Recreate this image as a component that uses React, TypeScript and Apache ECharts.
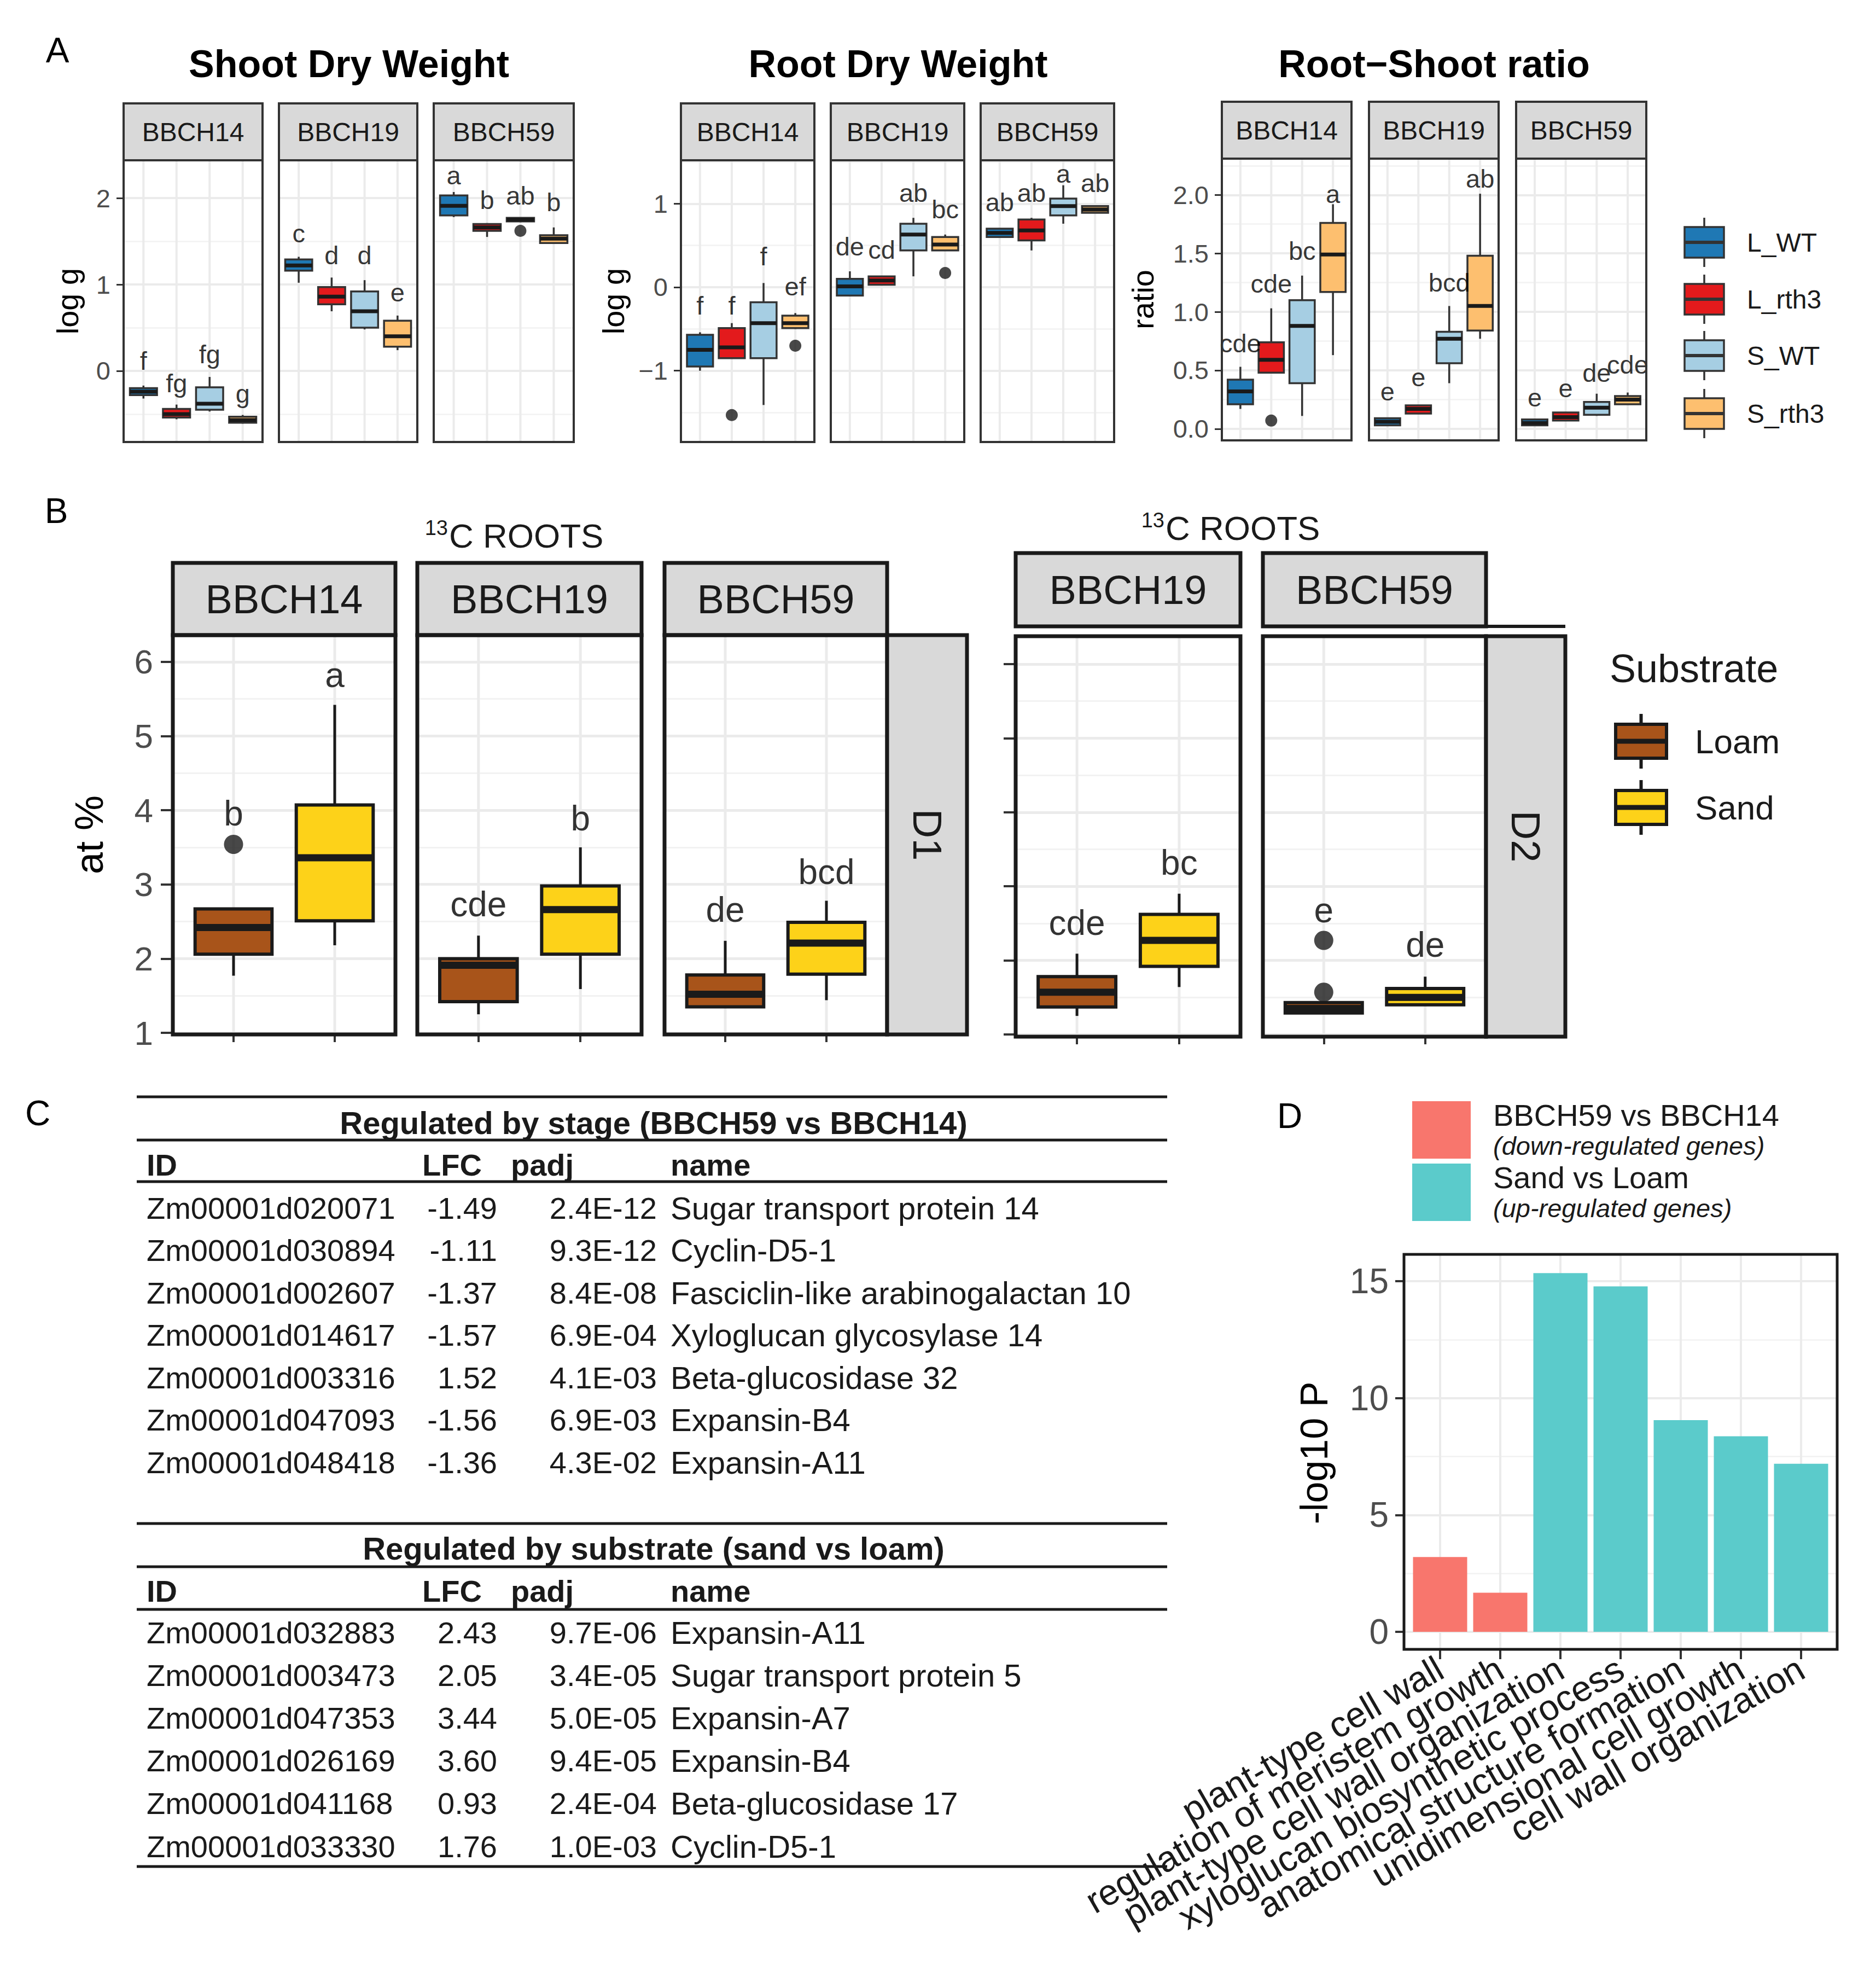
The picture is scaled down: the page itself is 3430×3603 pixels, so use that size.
import React, { useEffect, useRef } from "react";
import * as echarts from "echarts";

const W = 3430;
const H = 3603;
const FONT = '"Liberation Sans", Arial, Helvetica, sans-serif';

// ================= DATA =================
// ---- Panel A ----
const genotypes = ["L_WT", "L_rth3", "S_WT", "S_rth3"];
const stagesA = ["BBCH14", "BBCH19", "BBCH59"];
const panelATitles = ["Shoot Dry Weight", "Root Dry Weight", "Root\u2212Shoot ratio"];
const panelAYTitles = ["log g", "log g", "ratio"];

// [min, q1, median, q3, max] for L_WT, L_rth3, S_WT, S_rth3
const shoot14 = [[-0.32, -0.28, -0.24, -0.2, -0.17], [-0.56, -0.54, -0.5, -0.44, -0.39], [-0.47, -0.45, -0.38, -0.19, -0.07], [-0.61, -0.6, -0.57, -0.53, -0.51]];
const shoot19 = [[1.02, 1.16, 1.22, 1.29, 1.32], [0.69, 0.77, 0.86, 0.97, 1.08], [0.48, 0.5, 0.69, 0.92, 1.05], [0.24, 0.28, 0.4, 0.58, 0.64]];
const shoot59 = [[1.78, 1.8, 1.91, 2.03, 2.07], [1.55, 1.62, 1.66, 1.7, 1.71], [1.72, 1.73, 1.75, 1.77, 1.77], [1.47, 1.48, 1.53, 1.57, 1.66]];
const shootOutliers = [[2, 2, 1.62]]; // [stage, genotype, value]
const shootLetters = [["f", "fg", "fg", "g"], ["c", "d", "d", "e"], ["a", "b", "ab", "b"]];
const shootLetterY = [[0.12, -0.14, 0.19, -0.26], [1.59, 1.34, 1.34, 0.91], [2.26, 1.98, 2.03, 1.95]];

const root14 = [[-1.0, -0.95, -0.75, -0.57, -0.54], [-0.85, -0.85, -0.72, -0.49, -0.43], [-1.41, -0.85, -0.43, -0.18, 0.05], [-0.5, -0.49, -0.43, -0.34, -0.31]];
const root19 = [[-0.1, -0.1, 0.01, 0.1, 0.19], [0.03, 0.03, 0.08, 0.13, 0.13], [0.13, 0.44, 0.63, 0.76, 0.83], [0.44, 0.44, 0.51, 0.6, 0.63]];
const root59 = [[0.6, 0.6, 0.65, 0.7, 0.7], [0.44, 0.56, 0.68, 0.81, 0.83], [0.76, 0.86, 0.97, 1.06, 1.22], [0.89, 0.89, 0.93, 0.97, 0.97]];
const rootOutliers = [[0, 1, -1.53], [0, 3, -0.7], [1, 3, 0.17]];
const rootLetters = [["f", "f", "f", "ef"], ["de", "cd", "ab", "bc"], ["ab", "ab", "a", "ab"]];
const rootLetterY = [[-0.22, -0.22, 0.37, 0.01], [0.49, 0.45, 1.13, 0.93], [1.02, 1.13, 1.36, 1.25]];

const ratio14 = [[0.17, 0.21, 0.32, 0.42, 0.53], [0.48, 0.48, 0.59, 0.74, 1.03], [0.11, 0.39, 0.88, 1.1, 1.31], [0.63, 1.17, 1.49, 1.76, 1.92]];
const ratio19 = [[0.03, 0.03, 0.06, 0.09, 0.09], [0.13, 0.13, 0.17, 0.2, 0.2], [0.39, 0.56, 0.77, 0.83, 1.05], [0.77, 0.84, 1.05, 1.48, 2.01]];
const ratio59 = [[0.03, 0.03, 0.05, 0.08, 0.08], [0.07, 0.07, 0.1, 0.14, 0.14], [0.11, 0.12, 0.18, 0.23, 0.3], [0.21, 0.21, 0.25, 0.28, 0.31]];
const ratioOutliers = [[0, 1, 0.07]];
const ratioLetters = [["cde", "cde", "bc", "a"], ["e", "e", "bcd", "ab"], ["e", "e", "de", "cde"]];
const ratioLetterY = [[0.73, 1.24, 1.52, 2.01], [0.32, 0.44, 1.25, 2.14], [0.27, 0.35, 0.48, 0.55]];

// ---- Panel B ----
const substrates = ["Loam", "Sand"];
const stagesD1 = ["BBCH14", "BBCH19", "BBCH59"];
const stagesD2 = ["BBCH19", "BBCH59"];
const depthLabels = ["D1", "D2"];
const d1Loam = [[1.77, 2.06, 2.42, 2.67, 2.67], [1.25, 1.42, 1.91, 2.0, 2.31], [1.35, 1.35, 1.52, 1.78, 2.24]];
const d1Sand = [[2.18, 2.51, 3.36, 4.07, 5.42], [1.59, 2.06, 2.66, 2.98, 3.5], [1.44, 1.79, 2.21, 2.49, 2.78]];
const d2Loam = [[1.25, 1.37, 1.57, 1.78, 2.09], [1.29, 1.29, 1.35, 1.43, 1.43]];
const d2Sand = [[1.64, 1.92, 2.27, 2.62, 2.9], [1.4, 1.4, 1.5, 1.62, 1.78]];
const d1Outliers = [[0, 0, 3.54]]; // [stage, substrate, value]
const d2Outliers = [[1, 0, 2.27], [1, 0, 1.57]];
const d1Letters = [["b", "a"], ["cde", "b"], ["de", "bcd"]];
const d1LetterY = [[3.96, 5.82], [2.73, 3.89], [2.66, 3.17]];
const d2Letters = [["cde", "bc"], ["e", "de"]];
const d2LetterY = [[2.51, 3.32], [2.68, 2.21]];

// ---- Panel C ----
const tableHeaders = ["ID", "LFC", "padj", "name"];
const stageTitle = "Regulated by stage (BBCH59 vs BBCH14)";
const stageIds = ["Zm00001d020071", "Zm00001d030894", "Zm00001d002607", "Zm00001d014617", "Zm00001d003316", "Zm00001d047093", "Zm00001d048418"];
const stageLfc = [-1.49, -1.11, -1.37, -1.57, 1.52, -1.56, -1.36];
const stagePadj = ["2.4E-12", "9.3E-12", "8.4E-08", "6.9E-04", "4.1E-03", "6.9E-03", "4.3E-02"];
const stageNames = ["Sugar transport protein 14", "Cyclin-D5-1", "Fasciclin-like arabinogalactan 10", "Xyloglucan glycosylase 14", "Beta-glucosidase 32", "Expansin-B4", "Expansin-A11"];
const substrateTitle = "Regulated by substrate (sand vs loam)";
const substrateIds = ["Zm00001d032883", "Zm00001d003473", "Zm00001d047353", "Zm00001d026169", "Zm00001d041168", "Zm00001d033330"];
const substrateLfc = [2.43, 2.05, 3.44, 3.6, 0.93, 1.76];
const substratePadj = ["9.7E-06", "3.4E-05", "5.0E-05", "9.4E-05", "2.4E-04", "1.0E-03"];
const substrateNames = ["Expansin-A11", "Sugar transport protein 5", "Expansin-A7", "Expansin-B4", "Beta-glucosidase 17", "Cyclin-D5-1"];

// ---- Panel D ----
const goTerms = ["plant-type cell wall", "regulation of meristem growth", "plant-type cell wall organization", "xyloglucan biosynthetic process", "anatomical structure formation", "unidimensional cell growth", "cell wall organization"];
const goLogP = [3.2, 1.67, 15.35, 14.78, 9.06, 8.37, 7.19];
const goGroup = [0, 0, 1, 1, 1, 1, 1];
const goGroupNames = ["BBCH59 vs BBCH14", "Sand vs Loam"];
const goGroupNotes = ["(down-regulated genes)", "(up-regulated genes)"];

// ================= STYLE / LAYOUT =================
const genotypeColors = ["#1F78B4", "#E31A1C", "#A6CEE3", "#FDBF6F"];
const substrateColors = ["#A8541A", "#FDD219"];
const goColors = ["#F8766D", "#5BCBCB"];

const A_LAYOUT = [
  { titleX: 638, xs: [[226, 480], [510, 763], [793, 1049]], stripTop: 189, plotTop: 293, plotBottom: 808, yMin: -0.823, yMax: 2.437, step: 1, dec: 0, yTitleX: 123 },
  { titleX: 1642, xs: [[1245, 1489], [1519, 1763], [1793, 2037]], stripTop: 189, plotTop: 293, plotBottom: 808, yMin: -1.853, yMax: 1.519, step: 1, dec: 0, yTitleX: 1121 },
  { titleX: 2622, xs: [[2234, 2471], [2503, 2740], [2772, 3010]], stripTop: 186, plotTop: 290, plotBottom: 805, yMin: -0.099, yMax: 2.31, step: 0.5, dec: 1, yTitleX: 2089 },
];
const A_LEGEND_Y = [443, 547, 650, 756];

const B_LAYOUT = [
  { xs: [[316, 723], [763, 1173], [1215, 1622]], stripTop: 1029, stripBottom: 1161, plotTop: 1161, plotBottom: 1891, yMin: 0.978, yMax: 6.36, facet: [1622, 1768], labels: true, titleX: 821, titleY: 979 },
  { xs: [[1857, 2268], [2309, 2717]], stripTop: 1011, stripBottom: 1145, plotTop: 1163, plotBottom: 1895, yMin: 0.97, yMax: 6.377, facet: [2717, 2862], labels: false, titleX: 2131, titleY: 965 },
];
const B_LEGEND_Y = [1355, 1476];

const TABLES = [
  { rules: [2005, 2084, 2160], titleY: 2052, headY: 2129, row0: 2208, dy: 77.5, bottomRule: 0 },
  { rules: [2785, 2864, 2942], titleY: 2830, headY: 2908, row0: 2984, dy: 78.2, bottomRule: 3412 },
];
const TABLE_COLS = [268, 772, 934, 1226];

// ================= HELPERS =================
function ticksFor(min: number, max: number, step: number) {
  const out: number[] = [];
  for (let k = Math.ceil(min / step - 1e-9); k * step <= max + 1e-9; k++) out.push(+(k * step).toFixed(6));
  return out;
}
function fmtTick(step: number, dec: number) {
  return (v: number) => {
    const k = v / step;
    if (Math.abs(k - Math.round(k)) > 1e-6) return "";
    return (Math.round(k) * step).toFixed(dec).replace("-", "\u2212");
  };
}
function T(x: number, y: number, text: string, size: number, o: any = {}) {
  return {
    type: "text", x, y, z: 101, silent: true, rotation: o.rotation || 0,
    style: {
      text, fontSize: size, fontFamily: FONT, fontWeight: o.weight || "normal", fontStyle: o.italic ? "italic" : "normal",
      fill: o.color || "#1a1a1a", align: o.align || "center", verticalAlign: "middle",
      textAlign: o.align || "center", textVerticalAlign: "middle",
    },
  };
}
function R(x: number, y: number, w: number, h: number, fill: string, stroke: string, lw: number) {
  return { type: "rect", z: 100, silent: true, shape: { x, y, width: w, height: h }, style: { fill, stroke, lineWidth: lw } };
}
function L(x1: number, y1: number, x2: number, y2: number, lw: number, color = "#1a1a1a") {
  return { type: "line", z: 100, silent: true, shape: { x1, y1, x2, y2 }, style: { stroke: color, lineWidth: lw } };
}
function boxRender(colors: string[], st: any) {
  return (params: any, api: any) => {
    const x = api.value(0);
    const lo = api.coord([x, api.value(1)]);
    const q1 = api.coord([x, api.value(2)]);
    const md = api.coord([x, api.value(3)]);
    const q3 = api.coord([x, api.value(4)]);
    const hi = api.coord([x, api.value(5)]);
    const w = api.size([st.width, 0])[0];
    const cx = md[0];
    const fill = colors[api.value(6)];
    return {
      type: "group",
      children: [
        { type: "line", shape: { x1: cx, y1: hi[1], x2: cx, y2: q3[1] }, style: { stroke: st.stroke, lineWidth: st.whisker } },
        { type: "line", shape: { x1: cx, y1: q1[1], x2: cx, y2: lo[1] }, style: { stroke: st.stroke, lineWidth: st.whisker } },
        { type: "rect", shape: { x: cx - w / 2, y: q3[1], width: w, height: Math.max(q1[1] - q3[1], 1) }, style: { fill, stroke: st.stroke, lineWidth: st.border } },
        { type: "line", shape: { x1: cx - w / 2, y1: md[1], x2: cx + w / 2, y2: md[1] }, style: { stroke: st.median, lineWidth: st.medianWidth } },
      ],
    };
  };
}
function legendKey(els: any[], x: number, w: number, cy: number, hh: number, wh: number, fill: string, stroke: string, lw: number, mw: number) {
  const cx = x + w / 2;
  els.push(L(cx, cy - wh, cx, cy - hh, lw, stroke));
  els.push(L(cx, cy + hh, cx, cy + wh, lw, stroke));
  els.push(R(x, cy - hh, w, 2 * hh, fill, stroke, lw));
  els.push(L(x, cy, x + w, cy, mw, stroke));
}

// ================= OPTION =================
function buildOption() {
  const grid: any[] = [];
  const xAxis: any[] = [];
  const yAxis: any[] = [];
  const series: any[] = [];
  const els: any[] = [];

  const addPanel = (o: any) => {
    const i = grid.length;
    grid.push({ left: o.l, top: o.t, width: o.r - o.l, height: o.b - o.t, show: false, containLabel: false, outerBoundsMode: "none" });
    const xt = o.xTicks || [];
    xAxis.push({
      type: "value", gridIndex: i, min: o.xMin, max: o.xMax, splitNumber: Math.floor(o.xMax - o.xMin),
      axisLine: { show: false, onZero: false },
      axisTick: { show: !!o.xTickLen, length: o.xTickLen || 1, customValues: xt, lineStyle: { color: "#333333", width: o.tickW } },
      axisLabel: { show: false },
      splitLine: { show: false },
      minorSplitLine: { show: false },
    });
    const yt = ticksFor(o.yMin, o.yMax, o.step);
    yAxis.push({
      type: "value", gridIndex: i, min: o.yMin, max: o.yMax, splitNumber: Math.round((o.yMax - o.yMin) / o.step),
      axisLine: { show: false, onZero: false },
      axisTick: { show: !!o.yTickLen, length: o.yTickLen || 1, customValues: yt, lineStyle: { color: "#333333", width: o.tickW } },
      axisLabel: o.yLabelSize
        ? { show: true, customValues: yt, margin: o.yLabelMargin, fontSize: o.yLabelSize, fontFamily: FONT, color: "#4d4d4d", showMinLabel: true, showMaxLabel: true, formatter: fmtTick(o.step, o.dec) }
        : { show: false },
      splitLine: { show: true, lineStyle: { color: "#EBEBEB", width: o.majorW } },
      minorTick: { show: false, splitNumber: 2 },
      minorSplitLine: { show: true, lineStyle: { color: "#F2F2F2", width: o.minorW } },
    });
    const majorW = o.majorW;
    series.push({
      type: "custom", xAxisIndex: i, yAxisIndex: i, silent: true, z: 1,
      data: o.vgrid.map((v: number) => [v, o.yMin]),
      renderItem: (params: any, api: any) => {
        const p = api.coord([api.value(0), api.value(1)]);
        const cs = params.coordSys;
        return { type: "line", shape: { x1: p[0], y1: cs.y, x2: p[0], y2: cs.y + cs.height }, style: { stroke: "#EBEBEB", lineWidth: majorW } };
      },
    });
    return i;
  };
  const addBoxes = (gi: number, items: any[], colors: string[], st: any) =>
    series.push({ type: "custom", xAxisIndex: gi, yAxisIndex: gi, silent: true, z: 3, data: items, renderItem: boxRender(colors, st) });
  const addOutliers = (gi: number, pts: any[], size: number) =>
    series.push({ type: "scatter", xAxisIndex: gi, yAxisIndex: gi, silent: true, z: 4, symbol: "circle", symbolSize: size, itemStyle: { color: "#1a1a1a" }, data: pts });
  const addLetters = (gi: number, items: any[], size: number) =>
    series.push({
      type: "scatter", xAxisIndex: gi, yAxisIndex: gi, silent: true, z: 5, symbol: "circle", symbolSize: 1,
      itemStyle: { color: "rgba(0,0,0,0)" },
      label: { show: true, position: "inside", formatter: "{b}", fontSize: size, fontFamily: FONT, color: "#000000" },
      data: items,
    });

  // ---------- Panel A ----------
  const aStats = [[shoot14, shoot19, shoot59], [root14, root19, root59], [ratio14, ratio19, ratio59]];
  const aOut = [shootOutliers, rootOutliers, ratioOutliers];
  const aLetters = [shootLetters, rootLetters, ratioLetters];
  const aLetterY = [shootLetterY, rootLetterY, ratioLetterY];
  const boxStyleA = { width: 0.82, stroke: "#333333", border: 3.5, whisker: 3.5, median: "#1a1a1a", medianWidth: 7 };

  A_LAYOUT.forEach((Lay, m) => {
    Lay.xs.forEach(([l, r], s) => {
      const gi = addPanel({
        l, r, t: Lay.plotTop, b: Lay.plotBottom, xMin: 0.4, xMax: 4.6, vgrid: genotypes.map((_, g) => g + 1),
        yMin: Lay.yMin, yMax: Lay.yMax, step: Lay.step, dec: Lay.dec,
        yLabelSize: s === 0 ? 47 : 0, yTickLen: s === 0 ? 13 : 0, yLabelMargin: 24, tickW: 3, majorW: 4, minorW: 2.5,
      });
      addBoxes(gi, aStats[m][s].map((st, g) => [g + 1, ...st, g]), genotypeColors, boxStyleA);
      addOutliers(gi, aOut[m].filter((o) => o[0] === s).map((o) => [o[1] + 1, o[2]]), 22);
      addLetters(gi, aLetters[m][s].map((t, g) => ({ name: t, value: [g + 1, aLetterY[m][s][g]] })), 47);
      els.push(R(l, Lay.stripTop, r - l, Lay.plotTop - Lay.stripTop, "#D9D9D9", "#333333", 4));
      els.push(T((l + r) / 2, (Lay.stripTop + Lay.plotTop) / 2, stagesA[s], 48));
      els.push(R(l, Lay.plotTop, r - l, Lay.plotBottom - Lay.plotTop, "none", "#333333", 4));
    });
    els.push(T(Lay.titleX, 117, panelATitles[m], 70, { weight: "bold", color: "#000000" }));
    els.push(T(Lay.yTitleX, (Lay.plotTop + Lay.plotBottom) / 2, panelAYTitles[m], 56, { rotation: Math.PI / 2, color: "#000000" }));
  });
  genotypes.forEach((g, k) => {
    legendKey(els, 3080, 72, A_LEGEND_Y[k], 28, 45, genotypeColors[k], "#333333", 3.5, 6);
    els.push(T(3194, A_LEGEND_Y[k], g, 48, { align: "left" }));
  });
  els.push(T(105, 92, "A", 64, { color: "#000000" }));

  // ---------- Panel B ----------
  const boxStyleB = { width: 0.76, stroke: "#1a1a1a", border: 6, whisker: 5, median: "#1a1a1a", medianWidth: 13 };
  const bGroups = [
    { stages: stagesD1, loam: d1Loam, sand: d1Sand, out: d1Outliers, letters: d1Letters, letterY: d1LetterY },
    { stages: stagesD2, loam: d2Loam, sand: d2Sand, out: d2Outliers, letters: d2Letters, letterY: d2LetterY },
  ];
  bGroups.forEach((G, gIdx) => {
    const Lay = B_LAYOUT[gIdx];
    Lay.xs.forEach(([l, r], s) => {
      const gi = addPanel({
        l, r, t: Lay.plotTop, b: Lay.plotBottom, xMin: 0.4, xMax: 2.6, vgrid: substrates.map((_, k) => k + 1), xTicks: substrates.map((_, k) => k + 1), xTickLen: 14,
        yMin: Lay.yMin, yMax: Lay.yMax, step: 1, dec: 0,
        yLabelSize: Lay.labels && s === 0 ? 62 : 0, yTickLen: s === 0 ? 22 : 0, yLabelMargin: 36, tickW: 4, majorW: 5, minorW: 3,
      });
      addBoxes(gi, [[1, ...G.loam[s], 0], [2, ...G.sand[s], 1]], substrateColors, boxStyleB);
      addOutliers(gi, G.out.filter((o) => o[0] === s).map((o) => [o[1] + 1, o[2]]), 35);
      addLetters(gi, G.letters[s].map((t, k) => ({ name: t, value: [k + 1, G.letterY[s][k]] })), 64);
      els.push(R(l, Lay.stripTop, r - l, Lay.stripBottom - Lay.stripTop, "#D9D9D9", "#1a1a1a", 7));
      els.push(T((l + r) / 2, (Lay.stripTop + Lay.stripBottom) / 2, G.stages[s], 74));
      els.push(R(l, Lay.plotTop, r - l, Lay.plotBottom - Lay.plotTop, "none", "#1a1a1a", 7));
    });
    const [f0, f1] = Lay.facet;
    els.push(R(f0, Lay.plotTop, f1 - f0, Lay.plotBottom - Lay.plotTop, "#D9D9D9", "#1a1a1a", 7));
    els.push(T((f0 + f1) / 2, (Lay.plotTop + Lay.plotBottom) / 2, depthLabels[gIdx], 74, { rotation: -Math.PI / 2 }));
    els.push(T(Lay.titleX - 2, Lay.titleY - 14, "13", 38, { align: "right" }));
    els.push(T(Lay.titleX, Lay.titleY, "C ROOTS", 62, { align: "left" }));
  });
  els.push(L(2717, 1145, 2862, 1145, 6));
  els.push(T(163, 1526, "at %", 72, { rotation: Math.PI / 2, color: "#000000" }));
  els.push(T(103, 934, "B", 64, { color: "#000000" }));
  els.push(T(2943, 1222, "Substrate", 72, { align: "left" }));
  substrates.forEach((sname, k) => {
    legendKey(els, 2954, 93, B_LEGEND_Y[k], 31, 50, substrateColors[k], "#1a1a1a", 6, 9);
    els.push(T(3099, B_LEGEND_Y[k], sname, 62, { align: "left" }));
  });

  // ---------- Panel C ----------
  const tData = [
    { title: stageTitle, ids: stageIds, lfc: stageLfc, padj: stagePadj, names: stageNames },
    { title: substrateTitle, ids: substrateIds, lfc: substrateLfc, padj: substratePadj, names: substrateNames },
  ];
  tData.forEach((D, ti) => {
    const Lay = TABLES[ti];
    Lay.rules.forEach((y) => els.push(L(250, y, 2134, y, 5)));
    if (Lay.bottomRule) els.push(L(250, Lay.bottomRule, 2134, Lay.bottomRule, 5));
    els.push(T(1195, Lay.titleY, D.title, 58, { weight: "bold" }));
    tableHeaders.forEach((h, c) => els.push(T(TABLE_COLS[c], Lay.headY, h, 56, { weight: "bold", align: "left" })));
    D.ids.forEach((id, k) => {
      const y = Lay.row0 + k * Lay.dy;
      els.push(T(268, y, id, 56, { align: "left" }));
      els.push(T(909, y, D.lfc[k].toFixed(2), 56, { align: "right" }));
      els.push(T(1201, y, D.padj[k], 56, { align: "right" }));
      els.push(T(1226, y, D.names[k], 58, { align: "left" }));
    });
  });
  els.push(T(69, 2035, "C", 64, { color: "#000000" }));

  // ---------- Panel D ----------
  const dx = goTerms.map((_, k) => k + 1);
  const dYMin = -0.75;
  const giD = addPanel({
    l: 2567, r: 3359, t: 2293, b: 3015, xMin: 0.4, xMax: 7.6, vgrid: dx, xTicks: dx, xTickLen: 18,
    yMin: dYMin, yMax: 16.15, step: 5, dec: 0, yLabelSize: 64, yTickLen: 16, yLabelMargin: 28, tickW: 4, majorW: 4, minorW: 2.5,
  });
  series.push({
    type: "bar", xAxisIndex: giD, yAxisIndex: giD, z: 3, silent: true, barWidth: 99,
    data: goLogP.map((v, k) => ({ value: [k + 1, v], itemStyle: { color: goColors[goGroup[k]] } })),
  });
  // rotated category labels under the axis, placed through the axis scale
  series.push({
    type: "custom", xAxisIndex: giD, yAxisIndex: giD, silent: true, z: 6, clip: false,
    data: goTerms.map((t, k) => ({ name: t, value: [k + 1, dYMin] })),
    renderItem: (params: any, api: any) => {
      const p = api.coord([api.value(0), api.value(1)]);
      return {
        type: "text", x: p[0], y: p[1] + 30, rotation: Math.PI / 6,
        style: {
          text: goTerms[params.dataIndex], fontSize: 66, fontFamily: FONT, fill: "#1a1a1a",
          align: "right", verticalAlign: "middle", textAlign: "right", textVerticalAlign: "middle",
        },
      };
    },
  });
  els.push(R(2567, 2293, 792, 722, "none", "#1a1a1a", 5));
  els.push(T(2403, 2656, "-log10 P", 70, { rotation: Math.PI / 2, color: "#000000" }));
  els.push(T(2358, 2040, "D", 64, { color: "#000000" }));
  const legTop = [2013, 2127];
  goGroupNames.forEach((nm, k) => {
    els.push(R(2582, legTop[k], 107, 105, goColors[k], "none", 0));
    els.push(T(2730, legTop[k] + 25, nm, 56, { align: "left" }));
    els.push(T(2730, legTop[k] + 81, goGroupNotes[k], 47, { align: "left", italic: true }));
  });

  return {
    animation: false,
    backgroundColor: "#ffffff",
    grid,
    xAxis,
    yAxis,
    series,
    graphic: { elements: els },
  };
}

export default function App() {
  const ref = useRef<HTMLDivElement>(null);
  useEffect(() => {
    document.body.style.margin = "0";
    const el = ref.current;
    if (!el) return;
    const chart = echarts.init(el, null, { renderer: "svg", width: W, height: H });
    chart.setOption(buildOption() as any);
    return () => {
      chart.dispose();
    };
  }, []);
  return <div ref={ref} style={{ position: "absolute", left: 0, top: 0, width: W, height: H, background: "#ffffff" }} />;
}
